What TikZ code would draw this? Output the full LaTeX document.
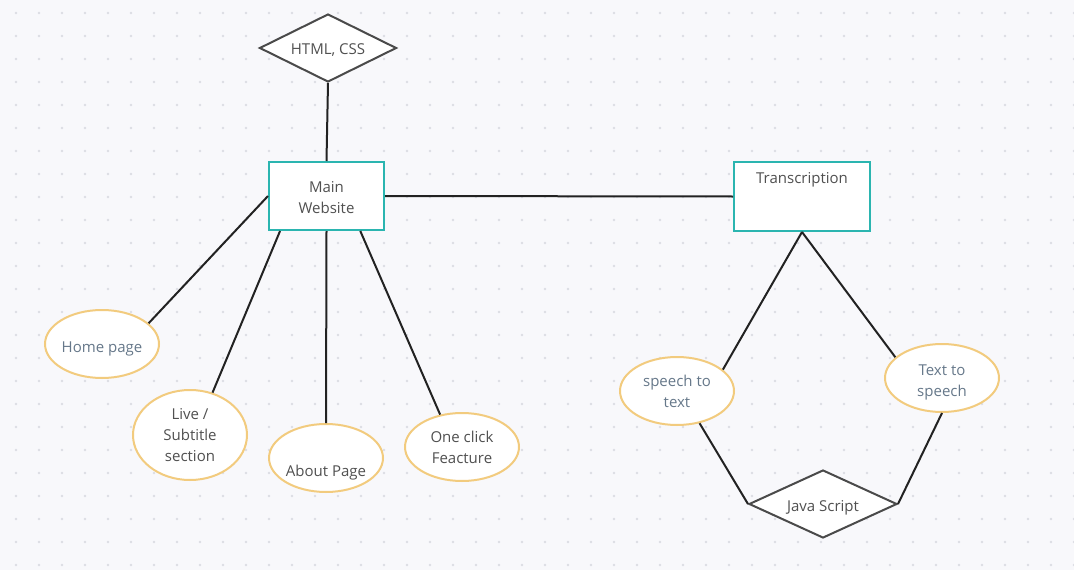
\documentclass[tikz,border=0pt]{standalone}
\usepackage{fontspec}
\setmainfont{Open Sans}
\usetikzlibrary{shapes.geometric}
\definecolor{bgc}{HTML}{F8F8FB}
\definecolor{dotc}{HTML}{DCDDE3}
\definecolor{tealc}{HTML}{2BB5B0}
\definecolor{orangec}{HTML}{F2CB7E}
\definecolor{darkt}{HTML}{505050}
\definecolor{slatet}{HTML}{66788A}
\definecolor{linec}{HTML}{222222}
\definecolor{diac}{HTML}{4A4A4A}
\newcommand{\mvtext}[2]{\raisebox{-#1pt}[\height][\depth]{\begin{tabular}{@{}c@{}}#2\end{tabular}}}
\tikzset{
  box/.style={draw=tealc, line width=2pt, fill=white, rectangle, inner sep=0pt,
    minimum width=115pt, minimum height=68pt, text=darkt, font=\fontsize{15}{21}\selectfont},
  oval/.style={draw=orangec, line width=2pt, fill=white, ellipse, inner sep=0pt,
    minimum width=114pt, minimum height=68pt, text=darkt, font=\fontsize{15}{21}\selectfont},
  rhomb/.style={draw=diac, line width=2pt, fill=white, diamond, aspect=2, inner sep=0pt,
    minimum width=137pt, minimum height=68pt, text=darkt, font=\fontsize{15}{21}\selectfont},
  conn/.style={draw=linec, line width=2pt},
}
\begin{document}
\begin{tikzpicture}[x=1pt,y=-1pt]
\fill[bgc] (0,0) rectangle (1074,570);
\useasboundingbox (0,0) rectangle (1074,570);
\foreach \i in {0,...,46} {
  \foreach \j in {0,...,24} {
    \fill[dotc] ({16+23*\i},{13+23*\j}) circle[radius=1.3pt];
  }
}
% nodes
\node[rhomb] (html) at (328,48) {\mvtext{2}{HTML, CSS}};
\node[box] (mw) at (326.5,196) {\mvtext{3}{Main\\Website}};
\node[box, minimum width=136pt, minimum height=69pt] (tr) at (802,196.5) {\raisebox{13pt}[0pt][0pt]{Transcription}};
\node[oval, text=slatet] (home) at (102,344) {\mvtext{4}{Home page}};
\node[oval, minimum height=90pt] (live) at (190,435) {\mvtext{1}{Live /\\Subtitle\\section}};
\node[oval] (about) at (326,458) {\raisebox{-18pt}[0pt][0pt]{About Page}};
\node[oval] (one) at (462,447) {\mvtext{1.5}{One click\\Feacture}};
\node[oval, text=slatet] (stt) at (677,391) {\mvtext{2}{speech to\\text}};
\node[oval, text=slatet] (tts) at (942,378) {\mvtext{3.5}{Text to\\speech}};
\node[rhomb, minimum width=148pt] (js) at (823,504) {\mvtext{3}{Java Script}};
% connectors
\draw[conn] (html.south) -- (mw.north);
\draw[conn] (mw.east) -- (tr.west);
\draw[conn] (mw.west) -- (home.24);
\draw[conn] (mw.217) -- (live.62);
\draw[conn] (mw.south) -- (about.north);
\draw[conn] (mw.-46) -- (one.124);
\draw[conn] (tr.south) -- (stt.25);
\draw[conn] (tr.south) -- (tts.156);
\draw[conn] (stt.-55) -- (js.west);
\draw[conn] (tts.south) -- (js.east);
\end{tikzpicture}
\end{document}
